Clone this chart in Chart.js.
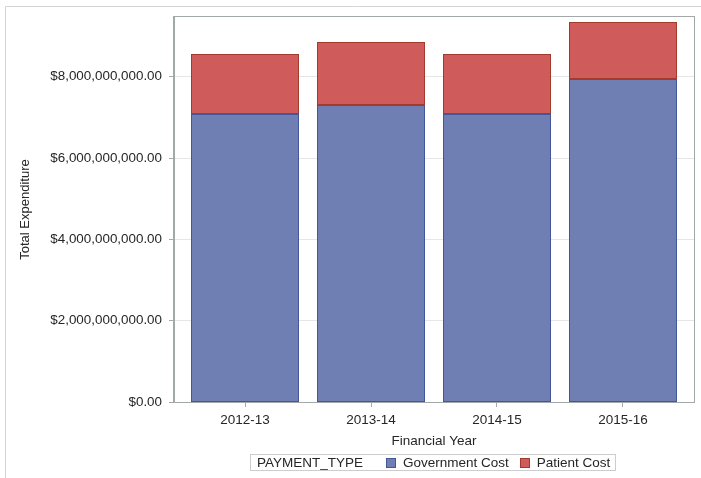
<!DOCTYPE html>
<html>
<head>
<meta charset="utf-8">
<script src="https://cdn.jsdelivr.net/npm/chart.js@4.4.1/dist/chart.umd.min.js"></script>
<style>
  html, body { margin: 0; padding: 0; background: #fff; }
  #wrap { width: 701px; height: 478px; position: relative; }
</style>
</head>
<body>
<div id="wrap"><canvas id="myChart" width="701" height="478"></canvas></div>
<script>
const years = ["2012-13", "2013-14", "2014-15", "2015-16"];
const governmentCost = [7.09e9, 7.31e9, 7.09e9, 7.94e9];
const patientCost = [1.48e9, 1.55e9, 1.48e9, 1.40e9];
const yTicks = [0, 2e9, 4e9, 6e9, 8e9];
const legendTitle = "PAYMENT_TYPE";

const FONT = "'Liberation Sans', Arial, sans-serif";
const frameColor = "#A3A8A8";
const textColor = "#262626";

// outer frame + plot box + legend (SAS style)
const sasDecor = {
    id: "sasDecor",
    beforeDraw(chart) {
        const c = chart.ctx;
        c.save();
        c.strokeStyle = "#D4D4D4";
        c.lineWidth = 1;
        c.beginPath();
        c.moveTo(5.5, chart.height);
        c.lineTo(5.5, 6.5);
        c.lineTo(chart.width, 6.5);
        c.stroke();
        c.restore();
    },
    beforeDatasetsDraw(chart) {
        // snap bar edges to whole pixels so the 1px outlines stay crisp
        chart.data.datasets.forEach((d, i) => {
            chart.getDatasetMeta(i).data.forEach(el => {
                el.y = Math.round(el.y);
                el.base = Math.round(el.base);
            });
        });
    },
    afterDraw(chart) {
        const c = chart.ctx;
        const a = chart.chartArea;
        c.save();
        c.strokeStyle = frameColor;
        c.lineWidth = 1;
        c.strokeRect(Math.round(a.left) - 0.5, Math.round(a.top) - 0.5,
            Math.round(a.right - a.left) + 1, Math.round(a.bottom - a.top) + 1);

        // legend
        c.font = "13.5px " + FONT;
        c.textBaseline = "middle";
        c.textAlign = "left";
        const ds = chart.data.datasets;
        const titleW = c.measureText(legendTitle).width;
        const widths = ds.map(d => c.measureText(d.label).width);
        const pad = 7, afterTitle = 23, sw = 10, swGap = 7, itemGap = 11, padR = 5;
        let total = pad + titleW + afterTitle + padR;
        widths.forEach((w, i) => { total += sw + swGap + w + (i < widths.length - 1 ? itemGap : 0); });
        const cx = (a.left + a.right) / 2 - 1.5;
        let x = Math.round(cx - total / 2);
        const y = 454.5, h = 16, mid = y + h / 2;
        c.strokeStyle = "#CDCDCD";
        c.strokeRect(x + 0.5, y, Math.round(total), h);
        c.fillStyle = textColor;
        let px = x + pad;
        c.fillText(legendTitle, px, mid + 0.5);
        px += titleW + afterTitle;
        ds.forEach((d, i) => {
            c.fillStyle = d.backgroundColor;
            c.fillRect(Math.round(px), Math.round(mid - 5), sw, sw);
            c.strokeStyle = d.borderColor;
            c.strokeRect(Math.round(px) + 0.5, Math.round(mid - 5) + 0.5, sw - 1, sw - 1);
            px += sw + swGap;
            c.fillStyle = textColor;
            c.fillText(d.label, px, mid + 0.5);
            px += widths[i] + itemGap;
        });
        c.restore();
    }
};

window.onload = () => {
    const ctx = document.getElementById("myChart").getContext("2d");
    const data = {
        datasets: [
            {
                label: "Government Cost",
                data: governmentCost.map((v, i) => ({x: i, y: v})),
                backgroundColor: "#6F7EB3",
                borderColor: "#44569A",
                borderWidth: 1,
                borderSkipped: false,
                inflateAmount: 0,
                barThickness: 108
            },
            {
                label: "Patient Cost",
                data: patientCost.map((v, i) => ({x: i, y: v})),
                backgroundColor: "#D05B5B",
                borderColor: "#A23A2E",
                borderWidth: 1,
                borderSkipped: false,
                inflateAmount: 0,
                barThickness: 108
            }
        ]
    };

    new Chart(ctx, {
        type: "bar",
        data,
        plugins: [sasDecor],
        options: {
            responsive: false,
            animation: false,
            layout: {padding: {top: 17, right: 7, left: 0, bottom: 0}},
            plugins: {legend: {display: false}, tooltip: {enabled: false}},
            scales: {
                x: {
                    type: "linear",
                    stacked: true,
                    offset: false,
                    min: -0.5635,
                    max: 3.5635,
                    afterBuildTicks: s => { s.ticks = years.map((_, i) => ({value: i})); },
                    afterFit: s => { s.height = 76; },
                    grid: {
                        offset: false,
                        drawOnChartArea: false,
                        tickLength: 5,
                        tickColor: frameColor
                    },
                    border: {color: frameColor},
                    ticks: {
                        autoSkip: false,
                        maxRotation: 0,
                        padding: 5,
                        color: textColor,
                        font: {family: FONT, size: 13.5},
                        callback: v => years[v]
                    },
                    title: {
                        display: true,
                        text: "Financial Year",
                        color: textColor,
                        font: {family: FONT, size: 13.5},
                        padding: {top: 0, bottom: 29}
                    }
                },
                y: {
                    stacked: true,
                    min: 0,
                    max: 9.47e9,
                    afterBuildTicks: s => { s.ticks = yTicks.map(v => ({value: v})); },
                    afterFit: s => { s.width = 174; },
                    grid: {
                        color: "#E6E6E6",
                        tickLength: 5,
                        tickColor: frameColor
                    },
                    border: {color: frameColor},
                    ticks: {
                        padding: 7,
                        color: textColor,
                        font: {family: FONT, size: 13.4},
                        callback: v => "$" + Number(v).toLocaleString("en-US", {minimumFractionDigits: 2, maximumFractionDigits: 2})
                    },
                    title: {
                        display: true,
                        text: "Total Expenditure",
                        color: textColor,
                        font: {family: FONT, size: 13},
                        padding: {top: 18, bottom: 0}
                    }
                }
            }
        }
    });
};
</script>
</body>
</html>
